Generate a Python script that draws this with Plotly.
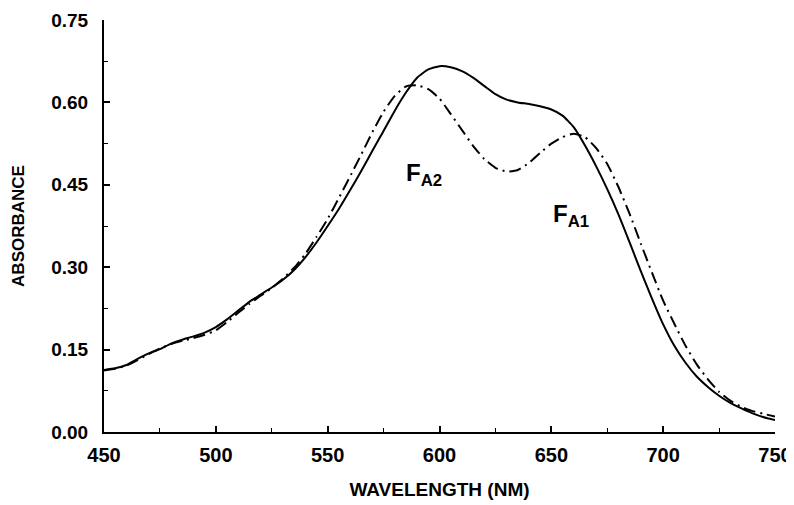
import plotly.graph_objects as go

wavelength = [450, 455, 460, 465, 470, 475, 480, 485, 490, 495, 500, 505, 510, 515, 520, 525,
              530, 535, 540, 545, 550, 555, 560, 565, 570, 575, 580, 585, 590, 595, 600, 605,
              610, 615, 620, 625, 630, 635, 640, 645, 650, 655, 660, 665, 670, 675, 680, 685,
              690, 695, 700, 705, 710, 715, 720, 725, 730, 735, 740, 745, 750]

solid_abs = [0.113, 0.116, 0.122, 0.133, 0.143, 0.151, 0.161, 0.168, 0.174, 0.181, 0.191, 0.205,
             0.221, 0.237, 0.250, 0.263, 0.277, 0.295, 0.318, 0.345, 0.375, 0.406, 0.440, 0.475,
             0.512, 0.548, 0.585, 0.618, 0.645, 0.660, 0.666, 0.664, 0.657, 0.645, 0.630, 0.615,
             0.605, 0.600, 0.597, 0.593, 0.587, 0.576, 0.555, 0.522, 0.484, 0.442, 0.396, 0.345,
             0.293, 0.243, 0.196, 0.157, 0.126, 0.101, 0.082, 0.066, 0.053, 0.043, 0.034, 0.027,
             0.022]

dashdot_abs = [0.112, 0.115, 0.121, 0.131, 0.142, 0.152, 0.160, 0.166, 0.171, 0.177, 0.185, 0.200,
               0.217, 0.233, 0.248, 0.262, 0.279, 0.299, 0.324, 0.355, 0.388, 0.426, 0.465, 0.505,
               0.546, 0.583, 0.612, 0.629, 0.631, 0.624, 0.607, 0.579, 0.550, 0.521, 0.497, 0.481,
               0.474, 0.477, 0.490, 0.508, 0.525, 0.537, 0.543, 0.537, 0.517, 0.488, 0.446, 0.397,
               0.343, 0.290, 0.239, 0.197, 0.157, 0.123, 0.096, 0.073, 0.057, 0.046, 0.038, 0.033,
               0.028]

x_ticks = [450, 500, 550, 600, 650, 700, 750]
y_ticks = [0.00, 0.15, 0.30, 0.45, 0.60, 0.75]
y_tick_labels = ["0.00", "0.15", "0.30", "0.45", "0.60", "0.75"]

labels = ["F<sub>A2</sub>", "F<sub>A1</sub>"]
label_x = [593, 659]
label_y = [0.469, 0.394]

FONT = "Liberation Sans, Arial, sans-serif"

fig = go.Figure()
fig.add_trace(go.Scatter(x=wavelength, y=solid_abs, mode="lines",
                         line=dict(color="black", width=2, shape="spline", smoothing=0.5),
                         showlegend=False, hoverinfo="skip"))
fig.add_trace(go.Scatter(x=wavelength, y=dashdot_abs, mode="lines",
                         line=dict(color="black", width=2, dash="12px,5px,2px,5px",
                                   shape="spline", smoothing=0.5),
                         showlegend=False, hoverinfo="skip"))

for t, lx, ly in zip(labels, label_x, label_y):
    fig.add_annotation(x=lx, y=ly, text="<b>" + t + "</b>", showarrow=False,
                       font=dict(family=FONT, size=24, color="black"))

# the page body adds an 8px offset, so the figure is sized to fit the 794x505 window
fig.update_layout(
    width=786, height=497,
    margin=dict(l=96, r=19, t=12, b=73),
    paper_bgcolor="white", plot_bgcolor="white",
    font=dict(family=FONT, color="black"),
)

fig.update_xaxes(
    range=[450, 750], tickmode="array", tickvals=x_ticks,
    ticktext=["<b>%d</b>" % v for v in x_ticks],
    ticks="inside", ticklen=6, tickwidth=1.5, tickcolor="black",
    minor=dict(dtick=25, ticks="inside", ticklen=4, tickwidth=1, tickcolor="black"),
    showline=True, linecolor="black", linewidth=2, showgrid=False, zeroline=False,
    tickfont=dict(family=FONT, size=20, color="black"),
    ticklabelstandoff=4,
    automargin=False,
    title=dict(text="<b>WAVELENGTH (NM)</b>", font=dict(family=FONT, size=19, color="black"),
               standoff=18),
)
fig.update_yaxes(
    range=[0, 0.75], tickmode="array", tickvals=y_ticks,
    ticktext=["<b>%s</b>" % s for s in y_tick_labels],
    ticks="inside", ticklen=6, tickwidth=1.5, tickcolor="black",
    minor=dict(dtick=0.075, ticks="inside", ticklen=4, tickwidth=1, tickcolor="black"),
    showline=True, linecolor="black", linewidth=2, showgrid=False, zeroline=False,
    tickfont=dict(family=FONT, size=19, color="black"),
    ticklabelstandoff=10,
    automargin=False,
    title=dict(text="<b>ABSORBANCE</b>", font=dict(family=FONT, size=17, color="black"),
               standoff=22),
)

fig.write_html("out.html")
